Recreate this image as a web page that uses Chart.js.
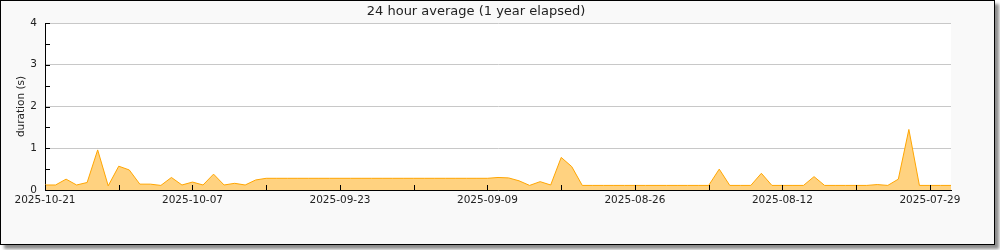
<!DOCTYPE html>
<html>
<head>
<meta charset="utf-8">
<script src="https://cdn.jsdelivr.net/npm/chart.js@4/dist/chart.umd.min.js"></script>
<style>
  html, body { margin: 0; padding: 0; background: #fff; }
  #frame {
    position: absolute; left: 0; top: 0;
    width: 993px; height: 243px;
    border: 1px solid #000;
    background: #f9f9f9;
    box-shadow: 4px 4px 3px rgba(0,0,0,0.45);
  }
  #chart { display: block; }
</style>
</head>
<body>
<div id="frame"><canvas id="chart" width="993" height="243"></canvas></div>
<script>
// daily averages, newest first (2025-10-21 back to 2025-07-27)
const firstDay = '2025-10-21';
const durations = [
  0.12, 0.12, 0.26, 0.12, 0.18, 0.96, 0.10, 0.57, 0.48, 0.14,
  0.14, 0.11, 0.30, 0.12, 0.19, 0.12, 0.38, 0.12, 0.16, 0.12,
  0.24, 0.28, 0.28, 0.28, 0.28, 0.28, 0.28, 0.28, 0.28, 0.28,
  0.28, 0.28, 0.28, 0.28, 0.28, 0.28, 0.28, 0.28, 0.28, 0.28,
  0.28, 0.28, 0.28, 0.30, 0.29, 0.22, 0.11, 0.20, 0.12, 0.78,
  0.56, 0.11, 0.11, 0.11, 0.11, 0.11, 0.11, 0.11, 0.11, 0.11,
  0.11, 0.11, 0.11, 0.11, 0.50, 0.11, 0.11, 0.11, 0.40, 0.11,
  0.11, 0.11, 0.11, 0.32, 0.11, 0.11, 0.11, 0.11, 0.11, 0.13,
  0.11, 0.26, 1.45, 0.11, 0.11, 0.11, 0.11
];
const yTicks = [0, 1, 2, 3, 4];

// one label per day
const days = [];
const start = new Date(firstDay + 'T00:00:00Z');
for (let i = 0; i < durations.length; i++) {
  const d = new Date(start.getTime() - i * 86400000);
  days.push(d.toISOString().slice(0, 10));
}

// white plot area + short black ticks pointing into the plot
const innerTicks = {
  id: 'innerTicks',
  beforeDraw(chart) {
    const { ctx, chartArea: a } = chart;
    ctx.save();
    ctx.fillStyle = '#fff';
    ctx.fillRect(a.left, a.top, a.right - a.left, a.bottom - a.top);
    ctx.restore();
  },
  afterDraw(chart) {
    const { ctx, chartArea: a, scales } = chart;
    ctx.save();
    ctx.strokeStyle = '#000';
    ctx.lineWidth = 1;
    ctx.beginPath();
    for (let i = 0; i < days.length; i += 7) {
      const x = Math.round(scales.x.getPixelForValue(i)) + 0.5;
      ctx.moveTo(x, a.bottom);
      ctx.lineTo(x, a.bottom - 5);
    }
    for (let v = 0.5; v <= 4; v += 0.5) {
      const y = Math.round(scales.y.getPixelForValue(v)) + 0.5;
      ctx.moveTo(a.left, y);
      ctx.lineTo(a.left + 5, y);
    }
    ctx.stroke();
    ctx.restore();
  }
};

const font = { family: 'DejaVu Sans', size: 10.5 };

new Chart(document.getElementById('chart'), {
  type: 'line',
  data: {
    labels: days,
    datasets: [{
      data: durations,
      borderColor: '#ffa500',
      backgroundColor: '#ffd280',
      borderWidth: 1,
      pointRadius: 0,
      fill: 'origin',
      tension: 0
    }]
  },
  options: {
    responsive: false,
    animation: false,
    layout: { padding: { left: 0, right: 43, top: 0, bottom: 0 } },
    plugins: {
      legend: { display: false },
      tooltip: { enabled: false },
      title: {
        display: true,
        text: '24 hour average (1 year elapsed)',
        color: '#222',
        font: { family: 'DejaVu Sans', size: 13, weight: 'normal' },
        padding: { top: 3, bottom: 3.4 }
      }
    },
    scales: {
      x: {
        type: 'category',
        offset: false,
        grid: { display: false, drawTicks: false },
        border: { color: '#000', width: 1 },
        ticks: {
          autoSkip: false,
          maxRotation: 0,
          padding: 4,
          color: '#222',
          font,
          callback: (v, i) => (i % 14 === 0 ? days[i] : '')
        },
        afterFit: s => { s.height = 54; }
      },
      y: {
        min: 0,
        max: 4,
        afterBuildTicks: s => { s.ticks = yTicks.map(v => ({ value: v })); },
        grid: { color: '#c8c8c8', drawTicks: false },
        border: { color: '#000', width: 1 },
        ticks: { padding: 8, color: '#222', font },
        title: {
          display: true,
          text: 'duration (s)',
          color: '#222',
          font,
          padding: { top: 14, bottom: 0 }
        },
        afterFit: s => { s.width = 44; }
      }
    }
  },
  plugins: [innerTicks]
});
</script>
</body>
</html>
